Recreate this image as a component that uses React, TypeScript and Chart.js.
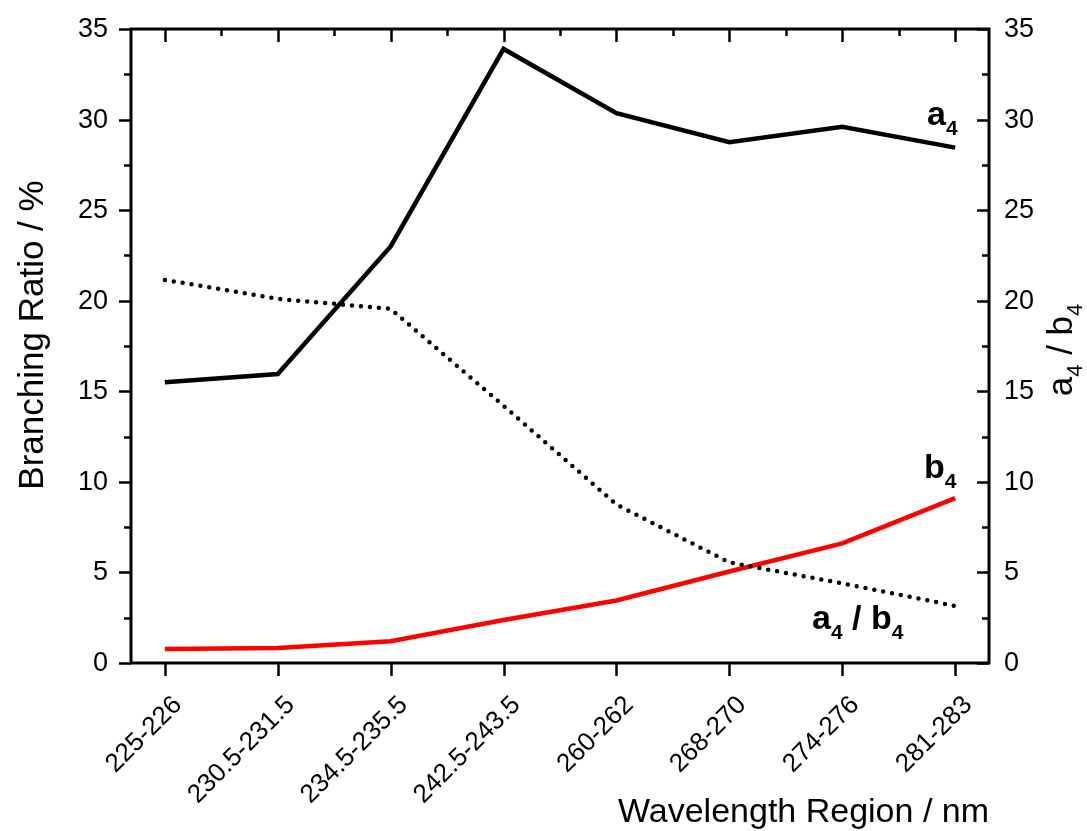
import React, { useEffect, useRef } from "react";
import { Chart, registerables } from "chart.js";

Chart.register(...registerables);

// Wavelength regions (nm)
const categories = [
  "225-226",
  "230.5-231.5",
  "234.5-235.5",
  "242.5-243.5",
  "260-262",
  "268-270",
  "274-276",
  "281-283",
];

// Branching ratios (%) for a4 and b4, and their ratio a4/b4
const a4Values = [15.5, 15.95, 23.0, 33.9, 30.35, 28.75, 29.6, 28.45];
const b4Values = [0.77, 0.83, 1.2, 2.37, 3.45, 5.05, 6.6, 9.1];
const ratioValues = [21.15, 20.1, 19.55, 14.2, 8.75, 5.55, 4.4, 3.15];

// Shared axis tick values (both y axes run 0–35)
const yTickValues = [0, 5, 10, 15, 20, 25, 30, 35];

const FONT = "'Liberation Sans', Arial, Helvetica, sans-serif";

type Part = { t: string; sub?: boolean };

function drawParts(
  ctx: CanvasRenderingContext2D,
  parts: Part[],
  x: number,
  y: number,
  size: number,
  subSize: number,
  bold: boolean,
  subDrop: number
) {
  let cx = x;
  for (const p of parts) {
    ctx.font = `${bold ? "bold " : ""}${p.sub ? subSize : size}px ${FONT}`;
    ctx.fillText(p.t, cx, p.sub ? y + subDrop : y);
    cx += ctx.measureText(p.t).width;
  }
}

function measureParts(
  ctx: CanvasRenderingContext2D,
  parts: Part[],
  size: number,
  subSize: number,
  bold: boolean
) {
  let w = 0;
  for (const p of parts) {
    ctx.font = `${bold ? "bold " : ""}${p.sub ? subSize : size}px ${FONT}`;
    w += ctx.measureText(p.t).width;
  }
  return w;
}

const axesPlugin = {
  id: "axesAndLabels",
  afterDraw(chart: any) {
    const { ctx, chartArea } = chart;
    const { left, right, top, bottom } = chartArea;
    const x = chart.scales.x;
    const y = chart.scales.y;
    const y2 = chart.scales.y2;
    ctx.save();
    ctx.strokeStyle = "#000";
    ctx.fillStyle = "#000";

    // frame
    ctx.lineWidth = 3;
    ctx.strokeRect(left, top, right - left, bottom - top);

    // y ticks: left outward, right inward, minor every 2.5
    ctx.lineWidth = 2.5;
    ctx.beginPath();
    for (let v = 0; v <= 35; v += 2.5) {
      const major = v % 5 === 0;
      const len = major ? 12 : 7;
      const py = Math.round(y.getPixelForValue(v)) + 0.5;
      ctx.moveTo(left - len, py);
      ctx.lineTo(left, py);
      const py2 = Math.round(y2.getPixelForValue(v)) + 0.5;
      ctx.moveTo(right - len, py2);
      ctx.lineTo(right, py2);
    }
    // x ticks: bottom outward, top inward with minor ticks in between
    categories.forEach((_, i) => {
      const px = Math.round(x.getPixelForValue(i)) + 0.5;
      ctx.moveTo(px, bottom);
      ctx.lineTo(px, bottom + 13);
      ctx.moveTo(px, top);
      ctx.lineTo(px, top + 13);
      if (i < categories.length - 1) {
        const pm = Math.round(x.getPixelForValue(i + 0.5)) + 0.5;
        ctx.moveTo(pm, top);
        ctx.lineTo(pm, top + 7);
      }
    });
    ctx.stroke();

    // tick labels
    ctx.textBaseline = "alphabetic";
    ctx.font = `27px ${FONT}`;
    yTickValues.forEach((v) => {
      ctx.textAlign = "right";
      ctx.fillText(String(v), left - 23, y.getPixelForValue(v) + 8);
      ctx.textAlign = "left";
      ctx.fillText(String(v), right + 15, y2.getPixelForValue(v) + 8);
    });
    ctx.font = `26px ${FONT}`;
    ctx.textAlign = "right";
    categories.forEach((c, i) => {
      ctx.save();
      ctx.translate(x.getPixelForValue(i) + 18, bottom + 43);
      ctx.rotate(-Math.PI / 4);
      ctx.fillText(c, 0, 0);
      ctx.restore();
    });
    ctx.textAlign = "left";

    // left axis title
    ctx.save();
    ctx.translate(43, 335);
    ctx.rotate(-Math.PI / 2);
    ctx.textAlign = "center";
    ctx.font = `35px ${FONT}`;
    ctx.fillText("Branching Ratio / %", 0, 0);
    ctx.restore();

    // right axis title
    const rParts: Part[] = [
      { t: "a" },
      { t: "4", sub: true },
      { t: " / b" },
      { t: "4", sub: true },
    ];
    ctx.save();
    ctx.translate(1072, 350);
    ctx.rotate(-Math.PI / 2);
    const rw = measureParts(ctx, rParts, 35, 22, false);
    drawParts(ctx, rParts, -rw / 2, 0, 35, 22, false, 10);
    ctx.restore();

    // bottom axis title
    ctx.font = `34px ${FONT}`;
    ctx.textAlign = "right";
    ctx.fillText("Wavelength Region / nm", right, 822);
    ctx.textAlign = "left";

    // series annotations
    drawParts(ctx, [{ t: "a" }, { t: "4", sub: true }], 927, 125, 34, 21, true, 10);
    drawParts(ctx, [{ t: "b" }, { t: "4", sub: true }], 924, 478, 34, 21, true, 10);
    drawParts(
      ctx,
      [{ t: "a" }, { t: "4", sub: true }, { t: " / b" }, { t: "4", sub: true }],
      812,
      629,
      34,
      21,
      true,
      10
    );

    ctx.restore();
  },
};

export default function App() {
  const canvasRef = useRef<HTMLCanvasElement | null>(null);

  useEffect(() => {
    const canvas = canvasRef.current;
    if (!canvas) return;
    const toPoints = (arr: number[]) => arr.map((v, i) => ({ x: i, y: v }));

    const chart = new Chart(canvas, {
      type: "line",
      data: {
        datasets: [
          {
            label: "a4 / b4",
            data: toPoints(ratioValues),
            yAxisID: "y2",
            borderColor: "#000",
            borderWidth: 4.5,
            borderDash: [0, 9],
            borderCapStyle: "round",
            pointRadius: 0,
            tension: 0,
            fill: false,
          },
          {
            label: "a4",
            data: toPoints(a4Values),
            yAxisID: "y",
            borderColor: "#000",
            borderWidth: 4.5,
            pointRadius: 0,
            tension: 0,
            fill: false,
          },
          {
            label: "b4",
            data: toPoints(b4Values),
            yAxisID: "y",
            borderColor: "#ff0000",
            borderWidth: 4.5,
            pointRadius: 0,
            tension: 0,
            fill: false,
          },
        ],
      },
      options: {
        responsive: false,
        animation: false,
        devicePixelRatio: 1,
        layout: { padding: { top: 29, left: 0, right: 0, bottom: 0 } },
        plugins: {
          legend: { display: false },
          tooltip: { enabled: false },
        },
        scales: {
          x: {
            type: "linear",
            position: "bottom",
            min: -0.3,
            max: categories.length - 1 + 0.3,
            afterFit: (scale: any) => {
              scale.height = 168;
            },
            grid: { display: false },
            border: { display: false },
            ticks: { display: false },
          },
          y: {
            type: "linear",
            position: "left",
            min: 0,
            max: 35,
            afterFit: (scale: any) => {
              scale.width = 131;
            },
            grid: { display: false },
            border: { display: false },
            ticks: { display: false },
          },
          y2: {
            type: "linear",
            position: "right",
            min: 0,
            max: 35,
            afterFit: (scale: any) => {
              scale.width = 98;
            },
            grid: { display: false },
            border: { display: false },
            ticks: { display: false },
          },
        },
      },
      plugins: [axesPlugin],
    } as any);

    return () => chart.destroy();
  }, []);

  return (
    <div
      style={{
        position: "fixed",
        left: 0,
        top: 0,
        width: 1087,
        height: 831,
        background: "#fff",
      }}
    >
      <canvas ref={canvasRef} width={1087} height={831} />
    </div>
  );
}
